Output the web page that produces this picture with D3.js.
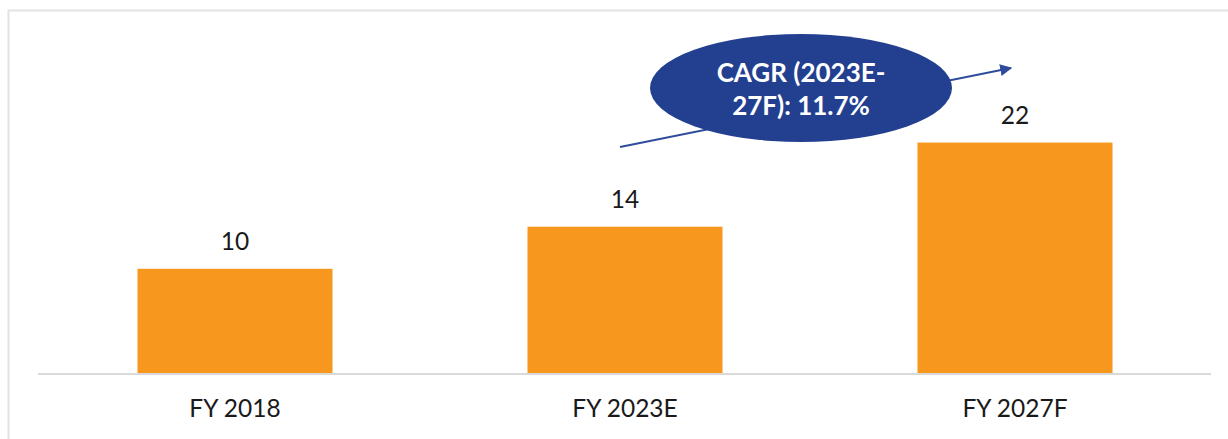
<!DOCTYPE html>
<html>
<head>
<meta charset="utf-8">
<script src="https://cdn.jsdelivr.net/npm/d3@7"></script>
<style>
  html, body { margin: 0; padding: 0; background: #fff; }
  svg { display: block; }
</style>
</head>
<body>
<svg id="chart" width="1228" height="439"></svg>
<script>
// Market size by fiscal year
const categories = ["FY 2018", "FY 2023E", "FY 2027F"];
const values = [10, 14, 22];
const cagrLines = ["CAGR (2023E-", "27F): 11.7%"];

const W = 1228, H = 439;
const svg = d3.select("#chart");
const font = "Lato, 'Open Sans', sans-serif";

// Light frame on top and left edges
svg.append("path")
  .attr("d", `M8.5,${H} L8.5,10.5 L${W},10.5`)
  .attr("fill", "none")
  .attr("stroke", "#e2e2e2")
  .attr("stroke-width", 2);

const x = d3.scaleBand()
  .domain(categories)
  .range([40, 1210])
  .paddingInner(0.5)
  .paddingOuter(0.25);

const y = d3.scaleLinear()
  .domain([0, 25])
  .range([374, 374 - 25 * 10.52]);

// Bars
svg.append("g").selectAll("rect")
  .data(values)
  .join("rect")
  .attr("x", (d, i) => x(categories[i]))
  .attr("y", d => y(d))
  .attr("width", x.bandwidth())
  .attr("height", d => y(0) - y(d))
  .attr("fill", "#F7971D");

// Baseline axis
const xAxis = svg.append("g")
  .attr("transform", `translate(0,${y(0)})`)
  .call(d3.axisBottom(x).tickSize(0).tickPadding(26));
xAxis.select(".domain").attr("stroke", "#d9d9d9").attr("stroke-width", 2)
  .attr("d", `M38,0H1211`);
xAxis.selectAll("text")
  .attr("font-family", font)
  .attr("font-size", 24.5)
  .attr("fill", "#1a1a1a");

// Value labels
svg.append("g").selectAll("text")
  .data(values)
  .join("text")
  .attr("x", (d, i) => x(categories[i]) + x.bandwidth() / 2)
  .attr("y", d => y(d) - 19)
  .attr("text-anchor", "middle")
  .attr("font-family", font)
  .attr("font-size", 24.5)
  .attr("fill", "#1a1a1a")
  .text(d => d);

// Growth arrow behind the CAGR bubble
const defs = svg.append("defs");
defs.append("marker")
  .attr("id", "arrowhead")
  .attr("viewBox", "0 0 10 10")
  .attr("refX", 9).attr("refY", 5)
  .attr("markerWidth", 6).attr("markerHeight", 6)
  .attr("orient", "auto")
  .append("path")
  .attr("d", "M0,0 L10,5 L0,10 Z")
  .attr("fill", "#2E4C9B");

svg.append("line")
  .attr("x1", 620).attr("y1", 147)
  .attr("x2", 1011).attr("y2", 68)
  .attr("stroke", "#2E4C9B")
  .attr("stroke-width", 2)
  .attr("marker-end", "url(#arrowhead)");

// CAGR bubble
const bubble = svg.append("g").attr("transform", "translate(801,88)");
bubble.append("ellipse")
  .attr("rx", 151).attr("ry", 54)
  .attr("fill", "#233F8F");
bubble.selectAll("text")
  .data(cagrLines)
  .join("text")
  .attr("x", 0)
  .attr("y", (d, i) => -6 + i * 33)
  .attr("text-anchor", "middle")
  .attr("font-family", font)
  .attr("font-weight", "bold")
  .attr("font-size", 26)
  .attr("fill", "#ffffff")
  .text(d => d);
</script>
</body>
</html>
